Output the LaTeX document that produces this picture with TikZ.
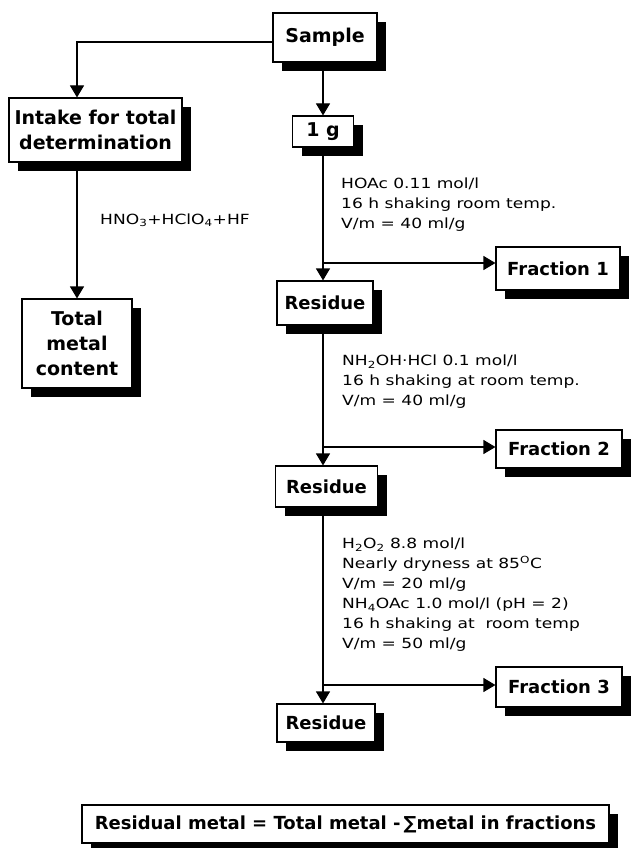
\documentclass[tikz,border=0pt]{standalone}
\usepackage{fontspec}
\setmainfont{DejaVu Sans}
\newfontfamily\notefont{DejaVu Sans}[FakeStretch=1.22]
\usetikzlibrary{arrows.meta,shadows}
\begin{document}
\begin{tikzpicture}[x=1pt,y=-1pt,
  box/.style={draw, line width=1.1pt, fill=white, inner sep=0pt, align=center,
    font=\bfseries\fontsize{19}{25}\selectfont,
    drop shadow={shadow xshift=9pt, shadow yshift=-9pt, fill=black, opacity=1}},
  sbox/.style={box, font=\bfseries\fontsize{18}{24}\selectfont},
  arr/.style={line width=1.1pt, -{Triangle[width=14pt,length=12pt]}},
  note/.style={font=\notefont\fontsize{14}{20}\selectfont, align=left, anchor=north west, inner sep=0pt}]
\useasboundingbox (0,0) rectangle (631,848);
% boxes
\node[box, minimum width=104pt, minimum height=49pt] (sample) at (325,37.5) {Sample};
\node[box, minimum width=173pt, minimum height=64pt] (intake) at (95.5,130) {Intake for total\\determination};
\node[box, minimum width=61pt, minimum height=31pt] (oneg) at (323,131.5) {1 g};
\node[box, minimum width=110pt, minimum height=89pt] (total) at (77,343.5) {Total\\metal\\content};
\node[sbox, minimum width=96pt, minimum height=44pt] (res1) at (325,303) {Residue};
\node[sbox, minimum width=102pt, minimum height=41pt] (res2) at (326.5,486.5) {Residue};
\node[sbox, minimum width=98pt, minimum height=38pt] (res3) at (326,723) {Residue};
\node[sbox, minimum width=124pt, minimum height=43pt] (f1) at (558,268.5) {Fraction 1};
\node[sbox, minimum width=126pt, minimum height=38pt] (f2) at (559,449) {Fraction 2};
\node[sbox, minimum width=126pt, minimum height=40pt] (f3) at (559,687) {Fraction 3};
\node[sbox, minimum width=527pt, minimum height=38pt] (eq) at (345.5,824) {Residual metal = Total metal -\,∑metal in fractions};
% branch points
\coordinate (b1) at (323,263);
\coordinate (b2) at (323,447);
\coordinate (b3) at (323,685);
% connectors
\draw[arr] ([yshift=-4.5pt]sample.west) -| (intake.north -| total.north);
\draw[arr] (intake.south -| total.north) -- (total.north);
\draw[arr] (sample.south -| oneg.north) -- (oneg.north);
\draw[arr] (oneg.south) -- (oneg.south |- res1.north);
\draw[arr] (res1.south -| oneg.south) -- (oneg.south |- res2.north);
\draw[arr] (res2.south -| oneg.south) -- (oneg.south |- res3.north);
\draw[arr] (b1) -- (b1 -| f1.west);
\draw[arr] (b2) -- (b2 -| f2.west);
\draw[arr] (b3) -- (b3 -| f3.west);
% labels
\node[font=\notefont\fontsize{14}{20}\selectfont, anchor=west, inner sep=0pt] (acid) at (100,220) {HNO\textsubscript{3}+HClO\textsubscript{4}+HF};
\node[note] (t1) at (341,178) {HOAc 0.11 mol/l\\ 16 h shaking room temp.\\V/m = 40 ml/g};
\node[note] (t2) at (342,355) {NH\textsubscript{2}OH·HCl 0.1 mol/l\\16 h shaking at room temp.\\V/m = 40 ml/g};
\node[note] (t3) at (342,538) {H\textsubscript{2}O\textsubscript{2} 8.8 mol/l\\Nearly dryness at 85\textsuperscript{O}C\\V/m = 20 ml/g\\NH\textsubscript{4}OAc 1.0 mol/l (pH = 2)\\16 h shaking at\ \ room temp\\V/m = 50 ml/g};
\end{tikzpicture}
\end{document}
